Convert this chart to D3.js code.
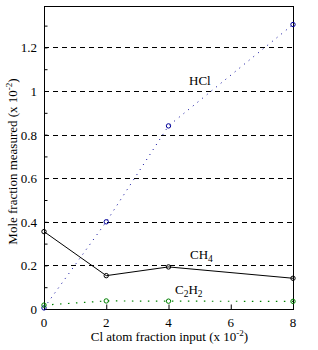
<!DOCTYPE html>
<html lang="en">
<head>
    <meta charset="UTF-8">
    <title>Mole fraction vs Cl atom fraction</title>
    <script src="https://d3js.org/d3.v7.min.js"></script>
    <style>
        body { margin: 0; background: #fff; }
        svg text { font-family: "Liberation Serif", "DejaVu Serif", serif; font-size: 13px; fill: #000; }
    </style>
</head>
<body>
<svg id="chart" width="318" height="350"></svg>
<script>
    // Data
    const clInput = [0, 2, 4, 8];
    const hcl = [0.005, 0.40, 0.84, 1.305];
    const ch4 = [0.355, 0.153, 0.193, 0.141];
    const c2h2 = [0.018, 0.037, 0.036, 0.035];
    const xTicks = [0, 2, 4, 6, 8];
    const yTicks = [0, 0.2, 0.4, 0.6, 0.8, 1, 1.2];

    const margin = { top: 6, right: 25, bottom: 41, left: 44 };
    const width = 318, height = 350;
    const svg = d3.select("#chart");

    const x = d3.scaleLinear().domain([0, 8]).range([margin.left, width - margin.right]);
    const y = d3.scaleLinear().domain([0, 1.39]).range([height - margin.bottom, margin.top]);

    // Dashed gridlines
    svg.append("g").selectAll("line")
        .data(yTicks.filter(d => d > 0))
        .enter().append("line")
        .attr("x1", x(0)).attr("x2", x(8))
        .attr("y1", d => Math.round(y(d)) + 0.5).attr("y2", d => Math.round(y(d)) + 0.5)
        .attr("stroke", "#000")
        .attr("stroke-dasharray", "5,4");

    // Frame
    svg.append("rect")
        .attr("x", x(0) + 0.5).attr("y", y(1.39) + 0.5)
        .attr("width", x(8) - x(0)).attr("height", y(0) - y(1.39))
        .attr("fill", "none").attr("stroke", "#000");

    // Y axis: inward ticks, minor every 0.1
    const yAxis = d3.axisRight(y)
        .tickValues(d3.range(0, 1.35, 0.1))
        .tickSize(3)
        .tickFormat("");
    svg.append("g")
        .attr("transform", `translate(${x(0) + 0.5},0)`)
        .call(yAxis)
        .call(g => g.select(".domain").remove());

    svg.append("g").selectAll("text")
        .data(yTicks)
        .enter().append("text")
        .attr("x", x(0) - 7)
        .attr("y", d => y(d) + 5)
        .attr("text-anchor", "end")
        .text(d => d);

    // X axis: inward ticks
    const xAxis = d3.axisTop(x)
        .tickValues(xTicks)
        .tickSize(5)
        .tickFormat("");
    svg.append("g")
        .attr("transform", `translate(0,${y(0) + 0.5})`)
        .call(xAxis)
        .call(g => g.select(".domain").remove());

    svg.append("g").selectAll("text")
        .data(xTicks)
        .enter().append("text")
        .attr("x", d => x(d))
        .attr("y", y(0) + 18)
        .attr("text-anchor", "middle")
        .text(d => d);

    // Axis titles
    const xt = svg.append("text")
        .attr("x", (x(0) + x(8)) / 2 + 1)
        .attr("y", 341)
        .attr("text-anchor", "middle");
    xt.append("tspan").text("Cl atom fraction input (x 10");
    xt.append("tspan").attr("dy", -5).style("font-size", "9px").text("-2");
    xt.append("tspan").attr("dy", 5).text(")");

    const yt = svg.append("text")
        .attr("transform", `translate(17,${(y(0) + y(1.39)) / 2 + 4}) rotate(-90)`)
        .attr("text-anchor", "middle");
    yt.append("tspan").text("Mole fraction measured (x 10");
    yt.append("tspan").attr("dy", -5).style("font-size", "9px").text("-2");
    yt.append("tspan").attr("dy", 5).text(")");

    // Series
    const series = [
        { vals: hcl, color: "#000099", dash: "1,5", width: 1 },
        { vals: ch4, color: "#000", dash: null, width: 1 },
        { vals: c2h2, color: "#008000", dash: "1.5,6.5", width: 1.2 }
    ];
    const line = d3.line().x(d => x(d[0])).y(d => y(d[1]));

    series.forEach(s => {
        const pts = clInput.map((c, i) => [c, s.vals[i]]);
        svg.append("path")
            .datum(pts)
            .attr("d", line)
            .attr("fill", "none")
            .attr("stroke", s.color)
            .attr("stroke-width", s.width)
            .attr("stroke-dasharray", s.dash);
        svg.append("g").selectAll("circle")
            .data(pts)
            .enter().append("circle")
            .attr("cx", d => x(d[0]))
            .attr("cy", d => y(d[1]))
            .attr("r", 2.2)
            .attr("fill", "none")
            .attr("stroke", s.color)
            .attr("stroke-width", 1);
    });

    // Series labels
    svg.append("text").attr("x", 189).attr("y", 85).text("HCl");

    const ch4Label = svg.append("text").attr("x", 190).attr("y", 259);
    ch4Label.append("tspan").text("CH");
    ch4Label.append("tspan").attr("dy", 3).style("font-size", "9.5px").text("4");

    const c2h2Label = svg.append("text").attr("x", 175).attr("y", 294);
    c2h2Label.append("tspan").text("C");
    c2h2Label.append("tspan").attr("dy", 3).style("font-size", "9.5px").text("2");
    c2h2Label.append("tspan").attr("dy", -3).text("H");
    c2h2Label.append("tspan").attr("dy", 3).style("font-size", "9.5px").text("2");
</script>
</body>
</html>
